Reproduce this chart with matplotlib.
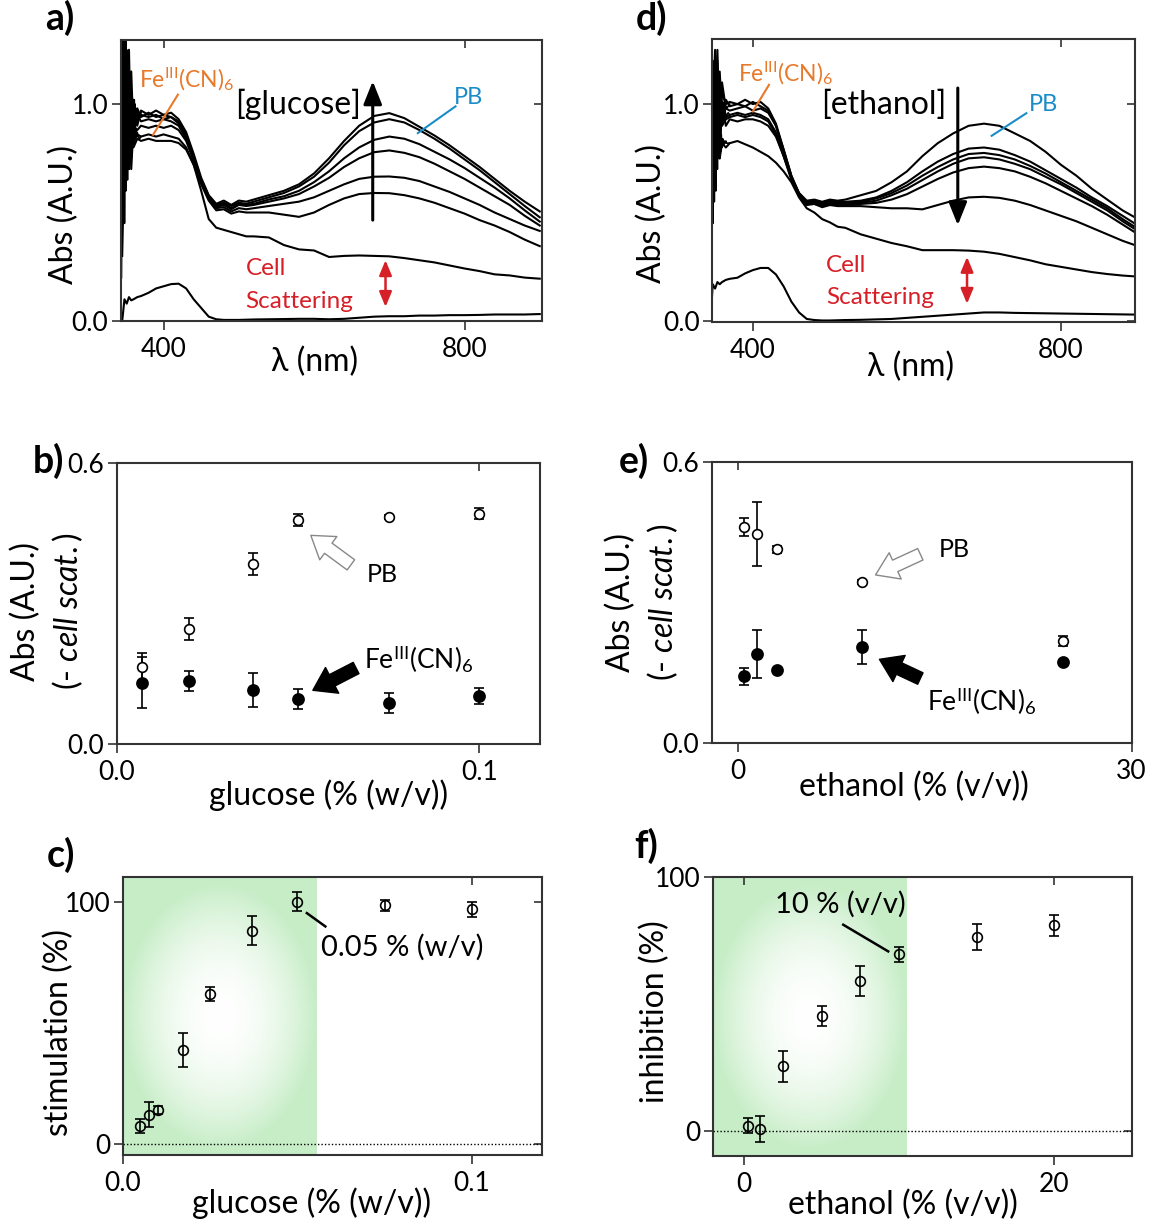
import numpy as np
import matplotlib
matplotlib.use('Agg')
import matplotlib.pyplot as plt
from matplotlib.patches import FancyArrowPatch

plt.rcParams['font.family'] = ['Lato', 'DejaVu Sans']
plt.rcParams['mathtext.fontset'] = 'custom'
plt.rcParams['mathtext.rm'] = 'Lato'
plt.rcParams['mathtext.it'] = 'Lato:italic'
plt.rcParams['mathtext.bf'] = 'Lato:bold'

W, H = 1157, 1227

# --- spectra (panels a, d): wavelength grid and absorbance
wl = [345, 348, 351, 354, 357, 360, 365, 370, 380, 390, 400, 410, 420, 430, 440,
      450, 460, 470, 480, 490, 500, 510, 520, 540, 560, 580, 600, 620, 640, 660,
      680, 700, 720, 740, 760, 780, 800, 820, 840, 860, 880, 900]

glu_1 = [0.55, 1.28, 0.72, 1.15, 0.85, 1.02, 0.9, 0.97, 0.95, 0.97, 0.95, 0.96, 0.93, 0.87,
         0.77, 0.66, 0.58, 0.54, 0.555, 0.535, 0.555, 0.55, 0.56, 0.58, 0.6, 0.63, 0.68, 0.75,
         0.83, 0.9, 0.945, 0.958, 0.935, 0.895, 0.855, 0.81, 0.76, 0.71, 0.655, 0.6, 0.55, 0.505]
glu_2 = [0.7, 0.95, 1.2, 0.8, 1.05, 0.9, 0.98, 0.94, 0.96, 0.94, 0.95, 0.94, 0.92, 0.86,
         0.76, 0.65, 0.575, 0.535, 0.545, 0.53, 0.545, 0.54, 0.55, 0.57, 0.59, 0.62, 0.665, 0.73,
         0.81, 0.875, 0.915, 0.93, 0.915, 0.88, 0.84, 0.795, 0.745, 0.695, 0.64, 0.585, 0.53, 0.478]
glu_3 = [0.5, 1.1, 0.85, 1.25, 0.75, 1.0, 0.92, 0.95, 0.94, 0.95, 0.93, 0.94, 0.91, 0.85,
         0.75, 0.645, 0.57, 0.53, 0.54, 0.52, 0.54, 0.535, 0.54, 0.56, 0.575, 0.6, 0.64, 0.69,
         0.75, 0.8, 0.835, 0.85, 0.84, 0.815, 0.78, 0.745, 0.705, 0.66, 0.615, 0.565, 0.51, 0.458]
glu_4 = [0.65, 0.9, 1.05, 0.7, 1.15, 0.85, 0.95, 0.92, 0.93, 0.92, 0.93, 0.92, 0.9, 0.84,
         0.74, 0.64, 0.565, 0.525, 0.535, 0.515, 0.535, 0.53, 0.535, 0.55, 0.565, 0.585, 0.62, 0.66,
         0.71, 0.75, 0.778, 0.786, 0.775, 0.755, 0.725, 0.69, 0.655, 0.615, 0.575, 0.535, 0.485, 0.44]
glu_5 = [0.45, 0.85, 0.95, 1.1, 0.7, 0.9, 0.88, 0.9, 0.89, 0.9, 0.89, 0.9, 0.88, 0.83,
         0.74, 0.64, 0.56, 0.52, 0.525, 0.505, 0.52, 0.515, 0.52, 0.53, 0.54, 0.55, 0.57, 0.6,
         0.63, 0.655, 0.665, 0.666, 0.66, 0.645, 0.62, 0.595, 0.565, 0.535, 0.5, 0.47, 0.44, 0.415]
glu_6 = [0.6, 0.75, 1.0, 0.8, 0.95, 0.82, 0.86, 0.85, 0.86, 0.85, 0.86, 0.85, 0.84, 0.8,
         0.72, 0.63, 0.555, 0.51, 0.515, 0.495, 0.505, 0.5, 0.5, 0.5, 0.49, 0.48, 0.5, 0.535,
         0.565, 0.585, 0.59, 0.589, 0.58, 0.565, 0.545, 0.52, 0.495, 0.465, 0.44, 0.41, 0.375, 0.345]
glu_scat = [0.3, 0.8, 0.95, 0.7, 0.9, 0.8, 0.84, 0.83, 0.84, 0.83, 0.83, 0.83, 0.82, 0.79,
            0.72, 0.6, 0.47, 0.43, 0.42, 0.41, 0.4, 0.39, 0.39, 0.385, 0.35, 0.33, 0.325, 0.295,
            0.3, 0.302, 0.3, 0.298, 0.29, 0.28, 0.27, 0.256, 0.242, 0.23, 0.215, 0.21, 0.2, 0.195]
glu_base = [0.0, 0.1, 0.08, 0.11, 0.095, 0.1, 0.11, 0.115, 0.13, 0.15, 0.16, 0.17, 0.172, 0.15,
            0.1, 0.06, 0.02, 0.008, 0.005, 0.005, 0.005, 0.006, 0.007, 0.008, 0.009, 0.01, 0.01,
            0.008, 0.01, 0.015, 0.02, 0.022, 0.022, 0.025, 0.025, 0.027, 0.027, 0.028, 0.03, 0.03,
            0.03, 0.032]

eth_1 = [0.5, 1.05, 0.8, 1.2, 0.75, 1.0, 0.9, 0.93, 0.92, 0.93, 0.93, 0.92, 0.9, 0.85,
         0.76, 0.66, 0.59, 0.555, 0.56, 0.55, 0.56, 0.555, 0.56, 0.58, 0.6, 0.64, 0.69, 0.76,
         0.82, 0.865, 0.9, 0.91, 0.9, 0.865, 0.83, 0.78, 0.72, 0.67, 0.61, 0.56, 0.51, 0.47]
eth_2 = [0.6, 1.15, 0.9, 1.25, 0.85, 1.1, 0.98, 0.97, 0.98, 0.99, 0.97, 0.98, 0.96, 0.9,
         0.79, 0.67, 0.59, 0.55, 0.555, 0.545, 0.555, 0.55, 0.55, 0.555, 0.57, 0.6, 0.64, 0.69,
         0.735, 0.77, 0.795, 0.8, 0.79, 0.765, 0.735, 0.695, 0.655, 0.615, 0.57, 0.53, 0.485, 0.44]
eth_3 = [0.45, 1.2, 0.95, 1.1, 0.9, 1.05, 1.0, 1.01, 1.0, 1.02, 1.0, 1.01, 0.98, 0.91,
         0.79, 0.67, 0.585, 0.545, 0.55, 0.54, 0.55, 0.545, 0.545, 0.55, 0.565, 0.59, 0.625, 0.67,
         0.71, 0.745, 0.77, 0.775, 0.765, 0.745, 0.715, 0.68, 0.64, 0.6, 0.56, 0.52, 0.47, 0.425]
eth_4 = [0.7, 0.95, 1.25, 0.85, 1.15, 0.95, 1.02, 0.99, 1.0, 0.99, 1.01, 0.99, 0.97, 0.9,
         0.78, 0.665, 0.58, 0.54, 0.545, 0.535, 0.545, 0.54, 0.54, 0.545, 0.555, 0.58, 0.61, 0.65,
         0.69, 0.725, 0.75, 0.755, 0.745, 0.725, 0.7, 0.665, 0.63, 0.59, 0.55, 0.51, 0.46, 0.415]
eth_5 = [0.55, 1.0, 0.85, 1.15, 0.8, 1.0, 0.94, 0.95, 0.96, 0.95, 0.96, 0.95, 0.93, 0.87,
         0.77, 0.66, 0.58, 0.54, 0.54, 0.53, 0.54, 0.535, 0.535, 0.54, 0.545, 0.56, 0.585, 0.62,
         0.655, 0.685, 0.705, 0.712, 0.705, 0.69, 0.665, 0.635, 0.6, 0.565, 0.53, 0.49, 0.445, 0.4]
eth_6 = [0.65, 0.9, 1.1, 0.8, 1.0, 0.9, 0.93, 0.94, 0.95, 0.94, 0.95, 0.94, 0.92, 0.86,
         0.76, 0.65, 0.575, 0.535, 0.54, 0.525, 0.535, 0.53, 0.53, 0.53, 0.525, 0.52, 0.52, 0.515,
         0.535, 0.555, 0.57, 0.573, 0.568, 0.555, 0.535, 0.51, 0.485, 0.46, 0.43, 0.4, 0.37, 0.345]
eth_scat = [0.3, 0.85, 0.7, 0.9, 0.75, 0.82, 0.8, 0.82, 0.83, 0.815, 0.8, 0.78, 0.76, 0.73,
            0.69, 0.64, 0.57, 0.52, 0.5, 0.47, 0.455, 0.435, 0.43, 0.4, 0.38, 0.36, 0.345, 0.327,
            0.327, 0.327, 0.325, 0.32, 0.31, 0.295, 0.28, 0.262, 0.25, 0.238, 0.226, 0.217, 0.21, 0.205]
eth_base = [0.0, 0.17, 0.15, 0.18, 0.17, 0.18, 0.19, 0.195, 0.2, 0.22, 0.235, 0.245, 0.245, 0.215,
            0.16, 0.09, 0.04, 0.01, 0.005, 0.003, 0.003, 0.004, 0.005, 0.006, 0.008, 0.01, 0.015,
            0.02, 0.025, 0.03, 0.035, 0.04, 0.04, 0.038, 0.037, 0.036, 0.035, 0.034, 0.033, 0.032,
            0.031, 0.03]

# noisy short-wavelength end of the spectra (detector noise, read as spikes)
uv_wl = [344, 345, 346, 347, 348, 349, 350, 351, 352, 353, 354, 355, 356, 357, 358, 359,
         360, 361, 362, 363, 364, 365, 366, 368, 370]
uv_glu_1 = [0.3, 1.1, 0.6, 1.29, 0.7, 1.2, 0.8, 1.25, 0.75, 1.1, 0.85, 1.15, 0.8, 1.05, 0.9,
            1.0, 0.88, 1.02, 0.9, 0.98, 0.92, 0.96, 0.94, 0.95, 0.96]
uv_glu_2 = [0.5, 0.9, 1.29, 0.5, 1.0, 0.65, 1.29, 0.7, 1.2, 0.8, 1.1, 0.75, 1.0, 0.85, 1.05,
            0.88, 0.98, 0.9, 1.0, 0.92, 0.97, 0.93, 0.95, 0.96, 0.95]
uv_glu_3 = [0.2, 0.7, 0.95, 1.2, 0.45, 0.9, 0.6, 1.0, 0.65, 0.95, 0.7, 1.05, 0.78, 0.92, 0.8,
            0.95, 0.82, 0.9, 0.84, 0.88, 0.85, 0.87, 0.85, 0.84, 0.85]
uv_eth_1 = [0.25, 1.0, 0.55, 1.2, 0.65, 1.1, 0.8, 1.15, 0.8, 1.05, 0.88, 1.08, 0.9, 1.04, 0.92,
            1.02, 0.94, 1.01, 0.95, 1.0, 0.97, 0.99, 0.98, 0.99, 1.0]
uv_eth_2 = [0.45, 0.85, 1.25, 0.55, 1.1, 0.7, 1.2, 0.75, 1.1, 0.85, 1.05, 0.8, 1.0, 0.88, 1.02,
            0.9, 0.98, 0.92, 1.0, 0.93, 0.97, 0.94, 0.95, 0.96, 0.95]
uv_eth_3 = [0.15, 0.6, 0.9, 1.1, 0.45, 0.85, 0.55, 0.95, 0.6, 0.9, 0.7, 0.95, 0.75, 0.88, 0.78,
            0.86, 0.8, 0.84, 0.81, 0.83, 0.82, 0.83, 0.82, 0.82, 0.82]

# --- panel b: absorbance vs glucose
glu_b = [0.007, 0.02, 0.0375, 0.05, 0.075, 0.1]
pb_glu = [0.165, 0.245, 0.384, 0.479, 0.485, 0.492]
pb_glu_err = [0.03, 0.023, 0.024, 0.013, 0.004, 0.011]
fe_glu = [0.131, 0.135, 0.115, 0.096, 0.088, 0.103]
fe_glu_err = [0.055, 0.021, 0.036, 0.021, 0.021, 0.017]

# --- panel e: absorbance vs ethanol
eth_e = [0.5, 1.5, 3.0, 9.5, 24.8]
pb_eth = [0.46, 0.445, 0.413, 0.343, 0.218]
pb_eth_err = [0.019, 0.068, 0.008, 0.004, 0.011]
fe_eth = [0.142, 0.19, 0.156, 0.2045, 0.172]
fe_eth_err = [0.018, 0.051, 0.004, 0.037, 0.004]

# --- panel c: stimulation vs glucose
glu_c = [0.005, 0.0075, 0.01, 0.0171, 0.025, 0.037, 0.05, 0.075, 0.1]
stim = [7.4, 12.2, 14.0, 39.0, 62.0, 88.0, 100.0, 98.5, 96.8]
stim_err = [3, 5, 1.6, 7, 3, 6, 4, 2.2, 3]

# --- panel f: inhibition vs ethanol
eth_f = [0.26, 1.0, 2.5, 5.0, 7.5, 10.0, 15.0, 20.0]
inhib = [2.1, 0.7, 25.4, 45.3, 59.1, 69.6, 76.3, 80.9]
inhib_err = [3, 5, 6, 4, 6, 3, 5, 4]

FE = r'Fe$^{\mathrm{III}}$(CN)$_{6}$'
ORANGE = '#e8792b'
BLUE = '#1a8cc8'
RED = '#d71f27'
SPINE = '#333333'
TICK_FS = 19
LAB_FS = 23


def px_axes(fig, l, t, r, b):
    return fig.add_axes([l / W, 1 - b / H, (r - l) / W, (b - t) / H])


def style(ax, xt, xl, yt, yl):
    ax.set_xticks(xt)
    ax.set_xticklabels(xl)
    ax.set_yticks(yt)
    ax.set_yticklabels(yl)
    ax.tick_params(direction='out', length=6.5, width=1.2, labelsize=TICK_FS,
                   pad=2.5, color=SPINE)
    ax.tick_params(axis='x', pad=5)
    for s in ax.spines.values():
        s.set_linewidth(1.5)
        s.set_color(SPINE)
    # mirrored inner ticks on top and right
    top = ax.secondary_xaxis('top')
    top.set_xticks(xt)
    top.tick_params(direction='in', length=6, width=1.2, labeltop=False, color=SPINE)
    top.spines['top'].set_visible(False)
    right = ax.secondary_yaxis('right')
    right.set_yticks(yt)
    right.tick_params(direction='in', length=6, width=1.2, labelright=False, color=SPINE)
    right.spines['right'].set_visible(False)


def labels(ax, xlab, xpos, ylab, ypos):
    ax.text(xpos[0], xpos[1], xlab, transform=ax.transAxes, ha='center', va='center',
            fontsize=LAB_FS)
    ax.text(ypos[0], ypos[1], ylab, transform=ax.transAxes, ha='center', va='center',
            fontsize=LAB_FS, rotation=90, linespacing=1.35, multialignment='center')


def letter(fig, s, x, y):
    fig.text(x / W, 1 - y / H, s, fontsize=27, fontweight='bold', ha='center', va='center')


def green_glow(ax, x0, x1, y0, y1):
    gx = np.linspace(-1, 1, 200)
    gy = np.linspace(-1, 1, 200)
    u, v = np.meshgrid(gx, gy)
    r = np.clip(np.sqrt(u ** 2 + (v * 1.05) ** 2), 0, 1) ** 1.9
    green = np.array([0.78, 0.93, 0.78])
    img = 1 - (1 - green)[None, None, :] * r[:, :, None]
    ax.imshow(img, extent=[x0, x1, y0, y1], origin='lower', aspect='auto', zorder=0,
              interpolation='bilinear')


def spectra_panel(ax, curves, uv_traces, xlim, ylim):
    for c in curves:
        ax.plot(wl, c, color='k', lw=1.5)
    for c in uv_traces:
        ax.plot(uv_wl, c, color='k', lw=1.2)
    ax.set_xlim(*xlim)
    ax.set_ylim(*ylim)
    style(ax, [400, 800], ['400', '800'], [0, 1], ['0.0', '1.0'])


def up_arrow(ax, x, y0, y1, color, style_, lw, ms):
    ax.annotate('', xy=(x, y1), xytext=(x, y0),
                arrowprops=dict(arrowstyle=style_, lw=lw, color=color,
                                mutation_scale=ms, shrinkA=0, shrinkB=0))


def block_arrow(ax, tail, head, fc, ec):
    ax.add_patch(FancyArrowPatch(tail, head,
                                 arrowstyle='simple,head_length=1.2,head_width=1.6,tail_width=0.7',
                                 mutation_scale=13, fc=fc, ec=ec, lw=1.0, zorder=5))


def main():
    fig = plt.figure(figsize=(W / 100, H / 100), dpi=100)

    # a) glucose spectra
    ax = px_axes(fig, 120.7, 40, 542, 321)
    spectra_panel(ax, [glu_1, glu_2, glu_3, glu_4, glu_5, glu_6, glu_scat, glu_base],
                  [uv_glu_1, uv_glu_2, uv_glu_3], (343, 903), (0, 1.295))
    ax.text(367, 1.112, FE, color=ORANGE, fontsize=16.5, va='center')
    ax.plot([419, 386], [1.043, 0.858], color=ORANGE, lw=1.5)
    ax.text(495, 1.0, '[glucose]', fontsize=LAB_FS, va='center')
    up_arrow(ax, 678, 0.465, 1.105, 'k', '-|>,head_length=0.7,head_width=0.28', 2.2, 20)
    ax.text(786, 1.028, 'PB', color=BLUE, fontsize=17, va='center')
    ax.plot([788, 738], [0.989, 0.866], color=BLUE, lw=1.5)
    ax.text(509, 0.242, 'Cell', color=RED, fontsize=17.5, va='center')
    ax.text(509, 0.088, 'Scattering', color=RED, fontsize=17.5, va='center')
    up_arrow(ax, 695, 0.28, 0.065, RED, '<|-|>,head_length=0.6,head_width=0.25', 1.8, 15)
    labels(ax, 'λ (nm)', (0.46, -0.145), 'Abs (A.U.)', (-0.135, 0.38))
    letter(fig, 'a)', 60, 18)

    # d) ethanol spectra
    ax = px_axes(fig, 712, 39, 1135, 322)
    spectra_panel(ax, [eth_1, eth_2, eth_3, eth_4, eth_5, eth_6, eth_scat, eth_base],
                  [uv_eth_1, uv_eth_2, uv_eth_3], (347, 896), (-0.004, 1.3))
    ax.text(381, 1.143, FE, color=ORANGE, fontsize=16.5, va='center')
    ax.plot([421, 400], [1.089, 0.966], color=ORANGE, lw=1.5)
    ax.text(488, 0.997, '[ethanol]', fontsize=LAB_FS, va='center')
    up_arrow(ax, 666, 1.074, 0.442, 'k', '-|>,head_length=0.7,head_width=0.28', 2.2, 20)
    ax.text(758, 0.997, 'PB', color=BLUE, fontsize=17, va='center')
    ax.plot([755, 710], [0.958, 0.854], color=BLUE, lw=1.5)
    ax.text(495, 0.257, 'Cell', color=RED, fontsize=17.5, va='center')
    ax.text(495, 0.111, 'Scattering', color=RED, fontsize=17.5, va='center')
    up_arrow(ax, 678, 0.296, 0.08, RED, '<|-|>,head_length=0.6,head_width=0.25', 1.8, 15)
    labels(ax, 'λ (nm)', (0.47, -0.158), 'Abs (A.U.)', (-0.142, 0.385))
    letter(fig, 'd)', 652, 18)

    eb = dict(fmt='o', ecolor='k', elinewidth=1.2, capsize=3.5, capthick=1.2, mew=1.2)

    # b) absorbance vs glucose
    ax = px_axes(fig, 117, 463, 540, 744)
    ax.errorbar(glu_b, pb_glu, yerr=pb_glu_err, mfc='white', mec='k', ms=7, **eb)
    ax.errorbar(glu_b, fe_glu, yerr=fe_glu_err, mfc='k', mec='k', ms=8, **eb)
    ax.set_xlim(0, 0.1168)
    ax.set_ylim(0, 0.6)
    style(ax, [0, 0.1], ['0.0', '0.1'], [0, 0.6], ['0.0', '0.6'])
    block_arrow(ax, (0.0652, 0.379), (0.0529, 0.449), 'white', '#888888')
    ax.text(0.0733, 0.361, 'PB', fontsize=18, ha='center', va='center')
    block_arrow(ax, (0.0667, 0.165), (0.0534, 0.112), 'k', 'k')
    ax.text(0.0682, 0.18, FE, fontsize=19, va='center')
    labels(ax, 'glucose (% (w/v))', (0.5, -0.181),
           'Abs (A.U.)\n(- $\\mathit{cell\\ scat.}$)', (-0.163, 0.473))
    letter(fig, 'b)', 48, 461)

    # e) absorbance vs ethanol
    ax = px_axes(fig, 711.5, 461.7, 1131.6, 743)
    ax.errorbar(eth_e, pb_eth, yerr=pb_eth_err, mfc='white', mec='k', ms=7, **eb)
    ax.errorbar(eth_e, fe_eth, yerr=fe_eth_err, mfc='k', mec='k', ms=8, **eb)
    ax.set_xlim(-2, 30)
    ax.set_ylim(0, 0.6)
    style(ax, [0, 30], ['0', '30'], [0, 0.6], ['0.0', '0.6'])
    block_arrow(ax, (14.1, 0.405), (10.3, 0.356), 'white', '#888888')
    ax.text(16.5, 0.412, 'PB', fontsize=18, ha='center', va='center')
    block_arrow(ax, (14.1, 0.135), (10.6, 0.181), 'k', 'k')
    ax.text(14.4, 0.089, FE, fontsize=19, va='center')
    labels(ax, 'ethanol (% (v/v))', (0.482, -0.155),
           'Abs (A.U.)\n(- $\\mathit{cell\\ scat.}$)', (-0.163, 0.5))
    letter(fig, 'e)', 634, 461)

    # c) stimulation
    ax = px_axes(fig, 123, 877, 542, 1155)
    green_glow(ax, 0, 0.0554, -4.5, 110.2)
    ax.axhline(0, color='k', lw=1, ls=(0, (1, 1.5)), zorder=1)
    ax.errorbar(glu_c, stim, yerr=stim_err, mfc='none', mec='k', ms=7, zorder=3, **eb)
    ax.set_xlim(0, 0.1201)
    ax.set_ylim(-4.5, 110.2)
    style(ax, [0, 0.1], ['0.0', '0.1'], [0, 100], ['0', '100'])
    ax.plot([0.0527, 0.058], [95.3, 89.8], color='k', lw=1.8)
    ax.text(0.0567, 81, '0.05 % (w/v)', fontsize=21, va='center')
    labels(ax, 'glucose (% (w/v))', (0.451, -0.173), 'stimulation (%)', (-0.153, 0.442))
    letter(fig, 'c)', 61, 855)

    # f) inhibition
    ax = px_axes(fig, 713, 877, 1131.6, 1156)
    green_glow(ax, -2, 10.5, -9.9, 100)
    ax.axhline(0, color='k', lw=1, ls=(0, (1, 1.5)), zorder=1)
    ax.errorbar(eth_f, inhib, yerr=inhib_err, mfc='none', mec='k', ms=7, zorder=3, **eb)
    ax.set_xlim(-2, 25)
    ax.set_ylim(-9.9, 100)
    style(ax, [0, 20], ['0', '20'], [0, 100], ['0', '100'])
    ax.plot([6.4, 9.3], [81.2, 70.7], color='k', lw=1.8)
    ax.text(6.22, 89.1, '10 % (v/v)', fontsize=21, ha='center', va='center')
    labels(ax, 'ethanol (% (v/v))', (0.454, -0.176), 'inhibition (%)', (-0.139, 0.517))
    letter(fig, 'f)', 646, 846)

    fig.savefig('out.png', dpi=100)


if __name__ == '__main__':
    main()
